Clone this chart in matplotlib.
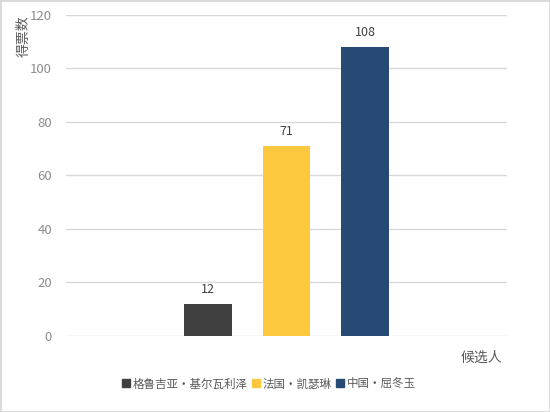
import matplotlib
matplotlib.use('Agg')
import matplotlib.pyplot as plt
from matplotlib.lines import Line2D
from matplotlib.patches import Rectangle

plt.rcParams['font.family'] = ['Noto Sans CJK SC', 'DejaVu Sans']

candidates = ['格鲁吉亚·基尔瓦利泽', '法国·凯瑟琳', '中国·屈冬玉']
votes = [12, 71, 108]
colors = ['#404040', '#fcc83e', '#264a74']
yticks = [0, 20, 40, 60, 80, 100, 120]

fig = plt.figure(figsize=(5.5, 4.12), dpi=100)
ax = fig.add_axes([0.12, 0.1845, 0.802, 0.7791])

width = 0.107
step = 0.178
for i, (name, v, c) in enumerate(zip(candidates, votes, colors)):
    x = (i - 1) * step
    ax.bar(x, v, width=width, color=c, label=name, zorder=3)
    ax.text(x, v + 3.0, str(v), ha='center', va='bottom', fontsize=9, color='#404040')

ax.set_xlim(-0.5, 0.5)
ax.set_ylim(0, 120)
ax.set_yticks(yticks)
ax.set_xticks([])
ax.tick_params(axis='y', length=0, labelsize=9.5, labelcolor='#8c8c8c', pad=10)
ax.grid(axis='y', color='#d9d9d9', linewidth=1, zorder=0)
for s in ax.spines.values():
    s.set_visible(False)

fig.text(0.043, 0.963, '得票数', rotation=90, ha='center', va='top', fontsize=10, color='#595959')
fig.text(0.913, 0.131, '候选人', ha='right', va='center', fontsize=10, color='#595959')

handles = [Line2D([], [], marker='s', linestyle='none', markersize=6, color=c) for c in colors]
fig.legend(handles, candidates, loc='center', bbox_to_anchor=(0.487, 0.068), ncol=3,
           frameon=False, fontsize=8.3, handletextpad=0.1, columnspacing=0.2,
           labelcolor='#595959', handlelength=1)

fig.patches.append(Rectangle((0, 0), 1, 1, transform=fig.transFigure, fill=False,
                             edgecolor='#d9d9d9', linewidth=2))

fig.savefig('out.png', dpi=100)
